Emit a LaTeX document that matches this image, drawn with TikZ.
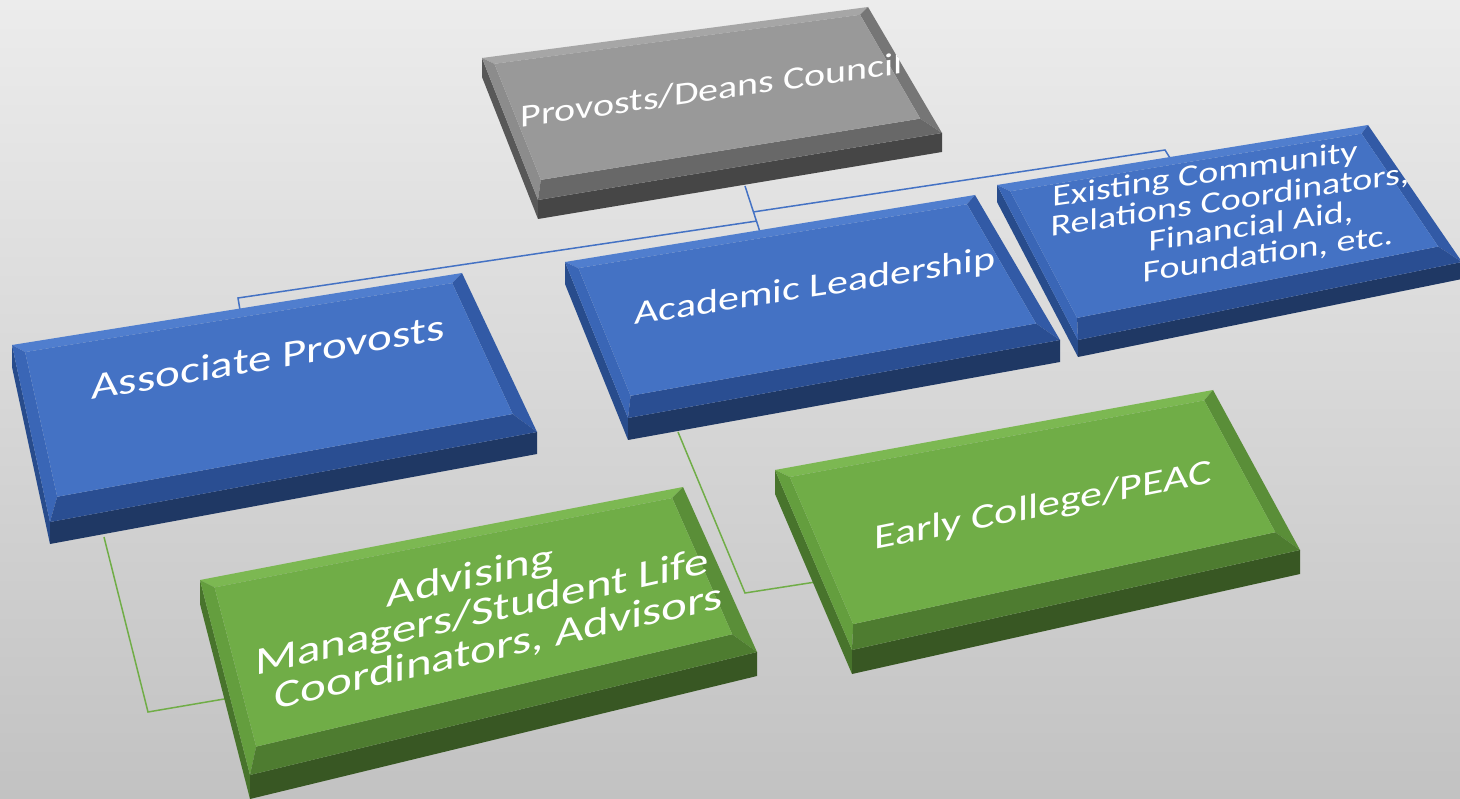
\documentclass[tikz,border=0pt]{standalone}
\usepackage{fontspec}
\setmainfont{Carlito}
\usetikzlibrary{calc}
\definecolor{bgTop}{RGB}{236,236,236}
\definecolor{bgBot}{RGB}{194,194,194}
% grey box
\definecolor{greyMain}{RGB}{153,153,153}
\definecolor{greyLight}{RGB}{166,166,166}
\definecolor{greyLeft}{RGB}{140,140,140}
\definecolor{greyRight}{RGB}{118,118,118}
\definecolor{greyBev}{RGB}{104,104,104}
\definecolor{greySide}{RGB}{70,70,70}
\definecolor{greySideL}{RGB}{88,88,88}
% blue box
\definecolor{blueMain}{RGB}{68,114,196}
\definecolor{blueLight}{RGB}{80,126,206}
\definecolor{blueLeft}{RGB}{58,102,182}
\definecolor{blueRight}{RGB}{50,90,166}
\definecolor{blueBev}{RGB}{42,78,146}
\definecolor{blueSide}{RGB}{31,56,100}
\definecolor{blueSideL}{RGB}{40,76,140}
% green box
\definecolor{greenMain}{RGB}{112,173,71}
\definecolor{greenLight}{RGB}{124,184,82}
\definecolor{greenLeft}{RGB}{100,158,62}
\definecolor{greenRight}{RGB}{90,142,56}
\definecolor{greenBev}{RGB}{78,124,48}
\definecolor{greenSide}{RGB}{56,87,35}
\definecolor{greenSideL}{RGB}{72,116,44}
% connectors
\definecolor{lineBlue}{RGB}{68,114,196}
\definecolor{lineGreen}{RGB}{112,173,71}

\newcommand\bevelbox[7]{%
  \coordinate (#1A) at (#2);
  \coordinate (#1B) at (#3);
  \coordinate (#1C) at (#4);
  \coordinate (#1D) at (#5);
  \coordinate (#1A2) at ($(#1A)+(0,#6)$);
  \coordinate (#1C2) at ($(#1C)+(0,#6)$);
  \coordinate (#1D2) at ($(#1D)+(0,#6)$);
  \coordinate (#1a) at ($(#1A)+0.025*(#1B)-0.025*(#1A)+0.05*(#1D)-0.05*(#1A)$);
  \coordinate (#1b) at ($(#1B)+0.03*(#1A)-0.03*(#1B)+0.05*(#1C)-0.05*(#1B)$);
  \coordinate (#1c) at ($(#1C)+0.03*(#1D)-0.03*(#1C)+0.13*(#1B)-0.13*(#1C)$);
  \coordinate (#1d) at ($(#1D)+0.025*(#1C)-0.025*(#1D)+0.13*(#1A)-0.13*(#1D)$);
  \fill[#7SideL] (#1A)--(#1D)--(#1D2)--(#1A2)--cycle;
  \fill[#7Side] (#1D)--(#1C)--(#1C2)--(#1D2)--cycle;
  \fill[#7Light] (#1A)--(#1B)--(#1b)--(#1a)--cycle;
  \fill[#7Left] (#1A)--(#1a)--(#1d)--(#1D)--cycle;
  \fill[#7Right] (#1B)--(#1C)--(#1c)--(#1b)--cycle;
  \fill[#7Bev] (#1D)--(#1C)--(#1c)--(#1d)--cycle;
  \fill[#7Main] (#1a)--(#1b)--(#1c)--(#1d)--cycle;
}

\tikzset{
  lbl/.style={text=white, align=center, transform shape, inner sep=0pt},
  bline/.style={draw=lineBlue, line width=1.5pt},
  gline/.style={draw=lineGreen, line width=1.5pt},
}

\begin{document}
\begin{tikzpicture}[x=1pt,y=-1pt]
\useasboundingbox (0,0) rectangle (1460,799);
\shade[top color=bgTop, bottom color=bgBot] (0,0) rectangle (1460,799);

% connector points
\coordinate (stemTop) at (745,186);
\coordinate (stemBot) at (760,232);
\coordinate (jl) at (757,221);
\coordinate (jr) at (753,212);
\coordinate (kl) at (238,298);
\coordinate (apTop) at (240,310);
\coordinate (kr) at (1165,150);
\coordinate (exTop) at (1170,158);
\coordinate (apBot) at (104,537);
\coordinate (gl) at (148,712);
\coordinate (adLeft) at (230,698);
\coordinate (alBot) at (678,432);
\coordinate (gr) at (745,593);
\coordinate (ecLeft) at (822,581);

\draw[bline] (stemTop) -- (stemBot);
\draw[bline] (jl) -- (kl) -- (apTop);
\draw[bline] (jr) -- (kr) -- (exTop);
\draw[gline] (apBot) -- (gl) -- (adLeft);
\draw[gline] (alBot) -- (gr) -- (ecLeft);

% boxes
\bevelbox{pv}{482,58}{868,7}{942,133}{538,200}{19}{grey}
\bevelbox{ex}{997,185}{1368,125}{1462,262}{1078,340}{17}{blue}
\bevelbox{ap}{12,345}{462,273}{537,432}{50,522}{22}{blue}
\bevelbox{al}{565,262}{975,195}{1060,340}{628,418}{22}{blue}
\bevelbox{ad}{200,580}{683,487}{757,652}{250,775}{24}{green}
\bevelbox{ec}{775,470}{1213,390}{1300,550}{852,650}{24}{green}

% labels
\begin{scope}
\clip (pvA)--(pvB)--(pvC)--(pvD)--cycle;
\node[lbl, yslant=0.14, yscale=0.8, font=\fontsize{40}{44}\selectfont] (tpv) at (712,90) {Provosts/Deans Council};
\end{scope}
\node[lbl, yslant=0.15, yscale=0.8, font=\fontsize{38}{37}\selectfont] (tex) at (1230,216)
  {Existing Community\hspace*{50pt}\\Relations Coordinators,\\\hspace*{42pt}Financial Aid,\\\hspace*{76pt}Foundation, etc.};
\node[lbl, yslant=0.17, yscale=0.8, font=\fontsize{47}{50}\selectfont] (tap) at (268,357) {Associate Provosts};
\node[lbl, yslant=0.155, yscale=0.8, font=\fontsize{42}{46}\selectfont] (tal) at (815,288) {Academic Leadership};
\node[lbl, yslant=0.225, yscale=0.8, font=\fontsize{49}{48}\selectfont] (tad) at (482,613)
  {Advising\hspace*{24pt}\\Managers/Student Life\\\hspace*{34pt}Coordinators, Advisors};
\node[lbl, yslant=0.2, yscale=0.8, font=\fontsize{44}{48}\selectfont] (tec) at (1043,507) {Early College/PEAC};
\end{tikzpicture}
\end{document}
